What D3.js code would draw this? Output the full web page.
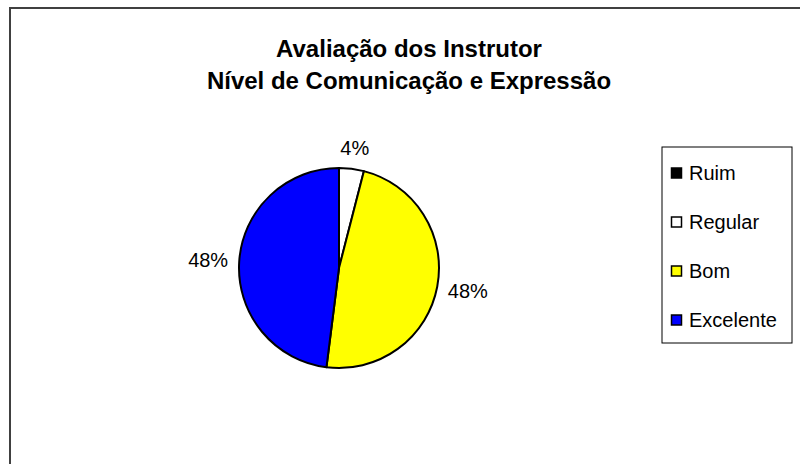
<!DOCTYPE html>
<html>
<head>
<meta charset="utf-8">
<script src="https://cdn.jsdelivr.net/npm/d3@7"></script>
<style>
  html, body { margin: 0; padding: 0; background: #fff; }
  svg { display: block; font-family: Arial, "Liberation Sans", sans-serif; }
</style>
</head>
<body>
<div id="viz"></div>
<script>
// data
const categories = ["Ruim", "Regular", "Bom", "Excelente"];
const values = [0, 4, 48, 48];
const colors = ["#000000", "#ffffff", "#ffff00", "#0000ff"];
const titleLines = ["Avaliação dos Instrutor", "Nível de Comunicação e Expressão"];

const width = 800, height = 464;
const cx = 339, cy = 268, r = 100;

const svg = d3.select("#viz").append("svg")
  .attr("width", width)
  .attr("height", height);

// chart area border (right/bottom run off the picture)
svg.append("rect")
  .attr("x", 10).attr("y", 8)
  .attr("width", 900).attr("height", 600)
  .attr("fill", "#fff")
  .attr("stroke", "#404040")
  .attr("stroke-width", 2);

// title
svg.append("g")
  .selectAll("text")
  .data(titleLines)
  .join("text")
  .attr("x", 409)
  .attr("y", (d, i) => 57 + i * 32)
  .attr("text-anchor", "middle")
  .attr("font-size", 24)
  .attr("font-weight", "bold")
  .text(d => d);

// pie
const data = categories.map((c, i) => ({ name: c, value: values[i], color: colors[i] }));
const pie = d3.pie().sort(null).value(d => d.value);
const arcs = pie(data);
const arc = d3.arc().innerRadius(0).outerRadius(r);

const g = svg.append("g").attr("transform", `translate(${cx},${cy})`);

g.selectAll("path")
  .data(arcs.filter(d => d.data.value > 0))
  .join("path")
  .attr("d", arc)
  .attr("fill", d => d.data.color)
  .attr("stroke", "#000")
  .attr("stroke-width", 2)
  .attr("stroke-linejoin", "round");

// percent labels, pushed outward from the rim
const labelR = r + 11;
const fmt = d3.format(".0%");
g.selectAll("text.lbl")
  .data(arcs.filter(d => d.data.value > 0))
  .join("text")
  .attr("class", "lbl")
  .attr("font-size", 20)
  .attr("text-anchor", "middle")
  .attr("dominant-baseline", "central")
  .each(function(d) {
    const a = (d.startAngle + d.endAngle) / 2;
    const s = Math.sin(a), c = Math.cos(a);
    const t = d3.select(this).text(fmt(d.data.value / d3.sum(values)));
    const bb = this.getBBox();
    const x = labelR * s + s * bb.width / 2;
    const y = -labelR * c - c * 10;
    t.attr("x", x).attr("y", y);
  });

// legend
const legend = svg.append("g").attr("transform", "translate(662,147)");
legend.append("rect")
  .attr("width", 130).attr("height", 196)
  .attr("fill", "#fff")
  .attr("stroke", "#000")
  .attr("stroke-width", 1);

const ly = d3.scalePoint().domain(categories).range([26, 173]);

const items = legend.selectAll("g.item")
  .data(data)
  .join("g")
  .attr("class", "item")
  .attr("transform", d => `translate(0,${ly(d.name)})`);

items.append("rect")
  .attr("x", 9.5).attr("y", -5)
  .attr("width", 10).attr("height", 10)
  .attr("fill", d => d.color)
  .attr("stroke", "#000")
  .attr("stroke-width", 1.5);

items.append("text")
  .attr("x", 27)
  .attr("dominant-baseline", "central")
  .attr("font-size", 20)
  .text(d => d.name);
</script>
</body>
</html>
